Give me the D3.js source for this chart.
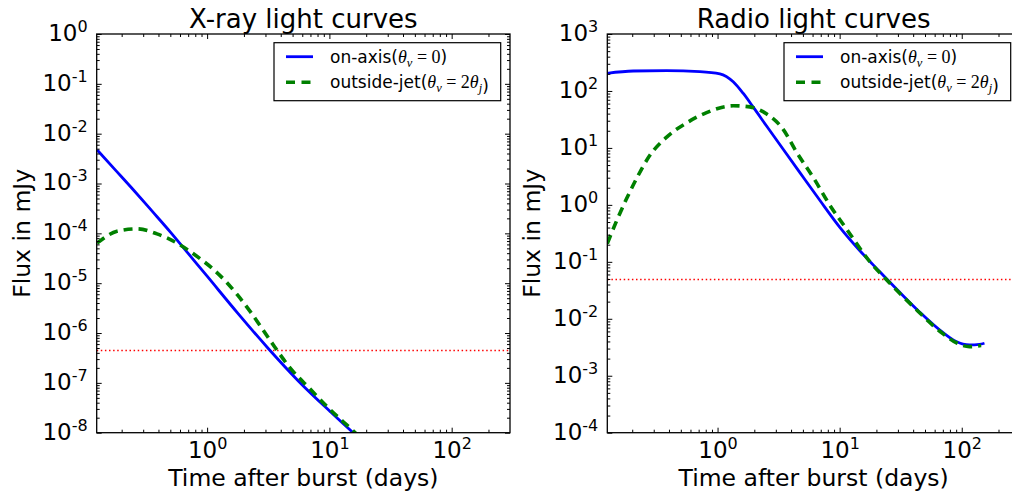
<!DOCTYPE html>
<html>
<head>
<meta charset="utf-8">
<script src="https://cdn.jsdelivr.net/npm/d3@7/dist/d3.min.js"></script>
<style>
  html, body { margin: 0; padding: 0; background: #fff; }
  svg { display: block; }
  text { font-family: "DejaVu Sans", sans-serif; fill: #000; }
</style>
</head>
<body>
<svg id="chart" width="1012" height="492"></svg>
<script>
// ---------------- data ----------------
const xTickValues = [1, 10, 100];
const xTickExponents = ["0", "1", "2"];

const xrayYTickValues = [1, 1e-1, 1e-2, 1e-3, 1e-4, 1e-5, 1e-6, 1e-7, 1e-8];
const xrayYTickExponents = ["0", "-1", "-2", "-3", "-4", "-5", "-6", "-7", "-8"];
const radioYTickValues = [1e3, 1e2, 1e1, 1, 1e-1, 1e-2, 1e-3, 1e-4];
const radioYTickExponents = ["3", "2", "1", "0", "-1", "-2", "-3", "-4"];

// X-ray, on-axis (theta_v = 0)
const xrayOnTime = [0.126, 0.178, 0.251, 0.355, 0.501, 0.708, 1.0, 1.778, 3.162, 5.623, 10.0, 15.17, 17.8];
const xrayOnFlux = [4.73e-3, 1.86e-3, 7.33e-4, 2.79e-4, 1.06e-4, 3.82e-5, 1.38e-5, 2.51e-6, 4.9e-7, 1.07e-7, 2.75e-8, 1.07e-8, 7.6e-9];

// X-ray, outside-jet (theta_v = 2 theta_j)
const xrayOffTime = [0.1259, 0.1832, 0.2667, 0.389, 0.5662, 0.8241, 1.122, 1.413, 1.778, 2.239, 2.818, 3.548, 4.764, 6.934, 10.0, 12.97, 15.17, 17.78];
const xrayOffFlux = [6.38e-5, 1.10e-4, 1.23e-4, 9.77e-5, 6.38e-5, 3.47e-5, 1.91e-5, 1.10e-5, 5.75e-6, 2.75e-6, 1.23e-6, 5.37e-7, 2.0e-7, 7.6e-8, 3.0e-8, 1.66e-8, 1.17e-8, 8.1e-9];

// Radio, on-axis
const radioOnTime = [0.1236, 0.204, 0.383, 0.716, 1.045, 1.343, 1.618, 1.954, 2.512, 3.436, 4.71, 6.855, 10.0, 14.59, 21.23, 30.9, 45.08, 69.98, 89.95, 115.6, 139.6, 153.5];
const radioOnFlux = [204, 224, 227, 219, 200, 145, 91.2, 52.5, 24.5, 9.55, 3.72, 1.216, 0.407, 0.158, 0.0676, 0.0295, 0.0132, 5.75e-3, 3.98e-3, 3.47e-3, 3.55e-3, 3.72e-3];

// Radio, outside-jet
const radioOffTime = [0.125, 0.149, 0.180, 0.218, 0.279, 0.383, 0.558, 0.813, 1.343, 1.837, 2.512, 3.436, 4.426, 6.252, 8.279, 11.35, 17.58, 25.64, 39.81, 69.98, 89.95, 115.6, 144.2];
const radioOffFlux = [0.209, 0.525, 1.29, 2.95, 7.41, 15.5, 27.5, 41.7, 55.0, 52.5, 39.8, 21.4, 8.51, 2.75, 1.0, 0.380, 0.102, 0.0427, 0.0166, 5.50e-3, 3.80e-3, 3.24e-3, 3.39e-3];

// detection limits (red dotted)
const xrayLimit = [4.45e-7];
const radioLimit = [0.049];

const titles = ["X-ray light curves", "Radio light curves"];
const xLabel = "Time after burst (days)";
const yLabel = "Flux in mJy";
const legendMain = ["on-axis(", "outside-jet("];

// ---------------- drawing ----------------
const svg = d3.select("#chart");
svg.append("rect").attr("width", 1012).attr("height", 492).attr("fill", "#fff");

const topY = 34, bottomY = 432.7;
const xDomain = [0.125, 300];

const panels = [
  { left: 96.7, right: 510, yDomain: [1e-8, 1], yTicks: xrayYTickValues, yExp: xrayYTickExponents,
    on: [xrayOnTime, xrayOnFlux], off: [xrayOffTime, xrayOffFlux], limit: xrayLimit[0],
    title: titles[0], ylabX: 30 },
  { left: 607.3, right: 1020, yDomain: [1e-4, 1e3], yTicks: radioYTickValues, yExp: radioYTickExponents,
    on: [radioOnTime, radioOnFlux], off: [radioOffTime, radioOffFlux], limit: radioLimit[0],
    title: titles[1], ylabX: 540 }
];

function minorTicks(domain) {
  const out = [];
  const lo = Math.floor(Math.log10(domain[0])), hi = Math.ceil(Math.log10(domain[1]));
  for (let e = lo; e <= hi; e++) {
    for (let m = 2; m <= 9; m++) {
      const v = m * Math.pow(10, e);
      if (v > domain[0] * 1.0001 && v < domain[1] * 0.9999) out.push(v);
    }
  }
  return out;
}

function expLabel(sel, exps, vals) {
  sel.each(function(d) {
    const i = vals.indexOf(d);
    const t = d3.select(this);
    t.text(null);
    t.append("tspan").text("10");
    t.append("tspan").attr("font-size", "16px").attr("dy", "-9").text(exps[i]);
  });
}

panels.forEach((p, pi) => {
  const g = svg.append("g");
  const x = d3.scaleLog().domain(xDomain).range([p.left, p.right]);
  const y = d3.scaleLog().domain(p.yDomain).range([bottomY, topY]);
  const clipId = "clip" + pi;
  svg.append("clipPath").attr("id", clipId).append("rect")
    .attr("x", p.left).attr("y", topY).attr("width", p.right - p.left).attr("height", bottomY - topY);

  const plot = g.append("g").attr("clip-path", `url(#${clipId})`);
  const line = d3.line().x(d => x(d[0])).y(d => y(d[1])).curve(d3.curveMonotoneX);

  // red limit line
  plot.append("line")
    .attr("x1", p.left).attr("x2", p.right)
    .attr("y1", y(p.limit)).attr("y2", y(p.limit))
    .attr("stroke", "#ff0000").attr("stroke-width", 1.5).attr("stroke-dasharray", "1.5,2.6");

  // curves
  const onData = p.on[0].map((t, i) => [t, p.on[1][i]]);
  const offData = p.off[0].map((t, i) => [t, p.off[1][i]]);
  plot.append("path").datum(onData).attr("d", line)
    .attr("fill", "none").attr("stroke", "#0000ff").attr("stroke-width", 2.8);
  plot.append("path").datum(offData).attr("d", line)
    .attr("fill", "none").attr("stroke", "#008000").attr("stroke-width", 3.6)
    .attr("stroke-dasharray", "9,6");

  // axes
  const majLen = 5, minLen = 3;
  const axB = g.append("g").attr("transform", `translate(0,${bottomY})`)
    .call(d3.axisBottom(x).tickValues(xTickValues).tickSize(-majLen).tickPadding(7));
  axB.selectAll("text").attr("font-size", "23px").attr("dy", "0.8em")
    .call(expLabel, xTickExponents, xTickValues);
  g.append("g").attr("transform", `translate(0,${bottomY})`)
    .call(d3.axisBottom(x).tickValues(minorTicks(xDomain)).tickSize(-minLen).tickFormat(""));
  g.append("g").attr("transform", `translate(0,${topY})`)
    .call(d3.axisTop(x).tickValues(xTickValues).tickSize(-majLen).tickFormat(""));
  g.append("g").attr("transform", `translate(0,${topY})`)
    .call(d3.axisTop(x).tickValues(minorTicks(xDomain)).tickSize(-minLen).tickFormat(""));

  const axL = g.append("g").attr("transform", `translate(${p.left},0)`)
    .call(d3.axisLeft(y).tickValues(p.yTicks).tickSize(-majLen).tickPadding(9));
  axL.selectAll("text").attr("font-size", "23px").attr("dy", "0.28em")
    .call(expLabel, p.yExp, p.yTicks);
  g.append("g").attr("transform", `translate(${p.left},0)`)
    .call(d3.axisLeft(y).tickValues(minorTicks(p.yDomain)).tickSize(-minLen).tickFormat(""));
  g.append("g").attr("transform", `translate(${p.right},0)`)
    .call(d3.axisRight(y).tickValues(p.yTicks).tickSize(-majLen).tickFormat(""));
  g.append("g").attr("transform", `translate(${p.right},0)`)
    .call(d3.axisRight(y).tickValues(minorTicks(p.yDomain)).tickSize(-minLen).tickFormat(""));

  g.selectAll(".domain").remove();
  g.selectAll(".tick line").attr("stroke", "#000").attr("stroke-width", 1);
  g.selectAll(".tick text").attr("font-family", "DejaVu Sans").attr("fill", "#000");

  // frame
  g.append("rect").attr("x", p.left).attr("y", topY)
    .attr("width", p.right - p.left).attr("height", bottomY - topY)
    .attr("fill", "none").attr("stroke", "#000").attr("stroke-width", 1.3);

  // title and labels
  const cx = (p.left + p.right) / 2;
  g.append("text").attr("x", cx).attr("y", 28).attr("text-anchor", "middle")
    .attr("font-size", "26px").text(p.title);
  g.append("text").attr("x", cx).attr("y", 486).attr("text-anchor", "middle")
    .attr("font-size", "23.5px").text(xLabel);
  g.append("text").attr("transform", `translate(${p.ylabX},${(topY + bottomY) / 2}) rotate(-90)`)
    .attr("text-anchor", "middle").attr("font-size", "23.5px").text(yLabel);

  // legend
  const lgX = p.right - 9.3 - 226.7, lgY = 42.7;
  const lg = g.append("g");
  lg.append("rect").attr("x", lgX).attr("y", lgY).attr("width", 226.7).attr("height", 58)
    .attr("fill", "#fff").attr("stroke", "#000").attr("stroke-width", 1.2);
  const rows = [
    { y: 56.7, color: "#0000ff", dash: null, w: 2.8, main: legendMain[0], math: "on" },
    { y: 82.3, color: "#008000", dash: "9,6.5", w: 3.6, main: legendMain[1], math: "off" }
  ];
  const serif = "Liberation Serif";
  rows.forEach(r => {
    lg.append("line").attr("x1", lgX + 12).attr("x2", lgX + 39)
      .attr("y1", r.y).attr("y2", r.y)
      .attr("stroke", r.color).attr("stroke-width", r.w)
      .attr("stroke-dasharray", r.dash);
    const t = lg.append("text").attr("x", lgX + 56).attr("y", r.y + 6).attr("font-size", "17px");
    t.append("tspan").text(r.main);
    t.append("tspan").attr("font-family", serif).attr("font-style", "italic")
      .attr("font-size", "18px").text("θ");
    t.append("tspan").attr("font-family", serif).attr("font-style", "italic")
      .attr("font-size", "12.5px").attr("dy", 4).text("v");
    if (r.math === "on") {
      t.append("tspan").attr("font-family", serif).attr("font-size", "18px")
        .attr("dy", -4).text(" = 0");
    } else {
      t.append("tspan").attr("font-family", serif).attr("font-size", "18px")
        .attr("dy", -4).text(" = 2");
      t.append("tspan").attr("font-family", serif).attr("font-style", "italic")
        .attr("font-size", "18px").text("θ");
      t.append("tspan").attr("font-family", serif).attr("font-style", "italic")
        .attr("font-size", "12.5px").attr("dy", 4).text("j");
      t.append("tspan").attr("dy", -4).text("");
    }
    t.append("tspan").text(")");
  });
});
</script>
</body>
</html>
